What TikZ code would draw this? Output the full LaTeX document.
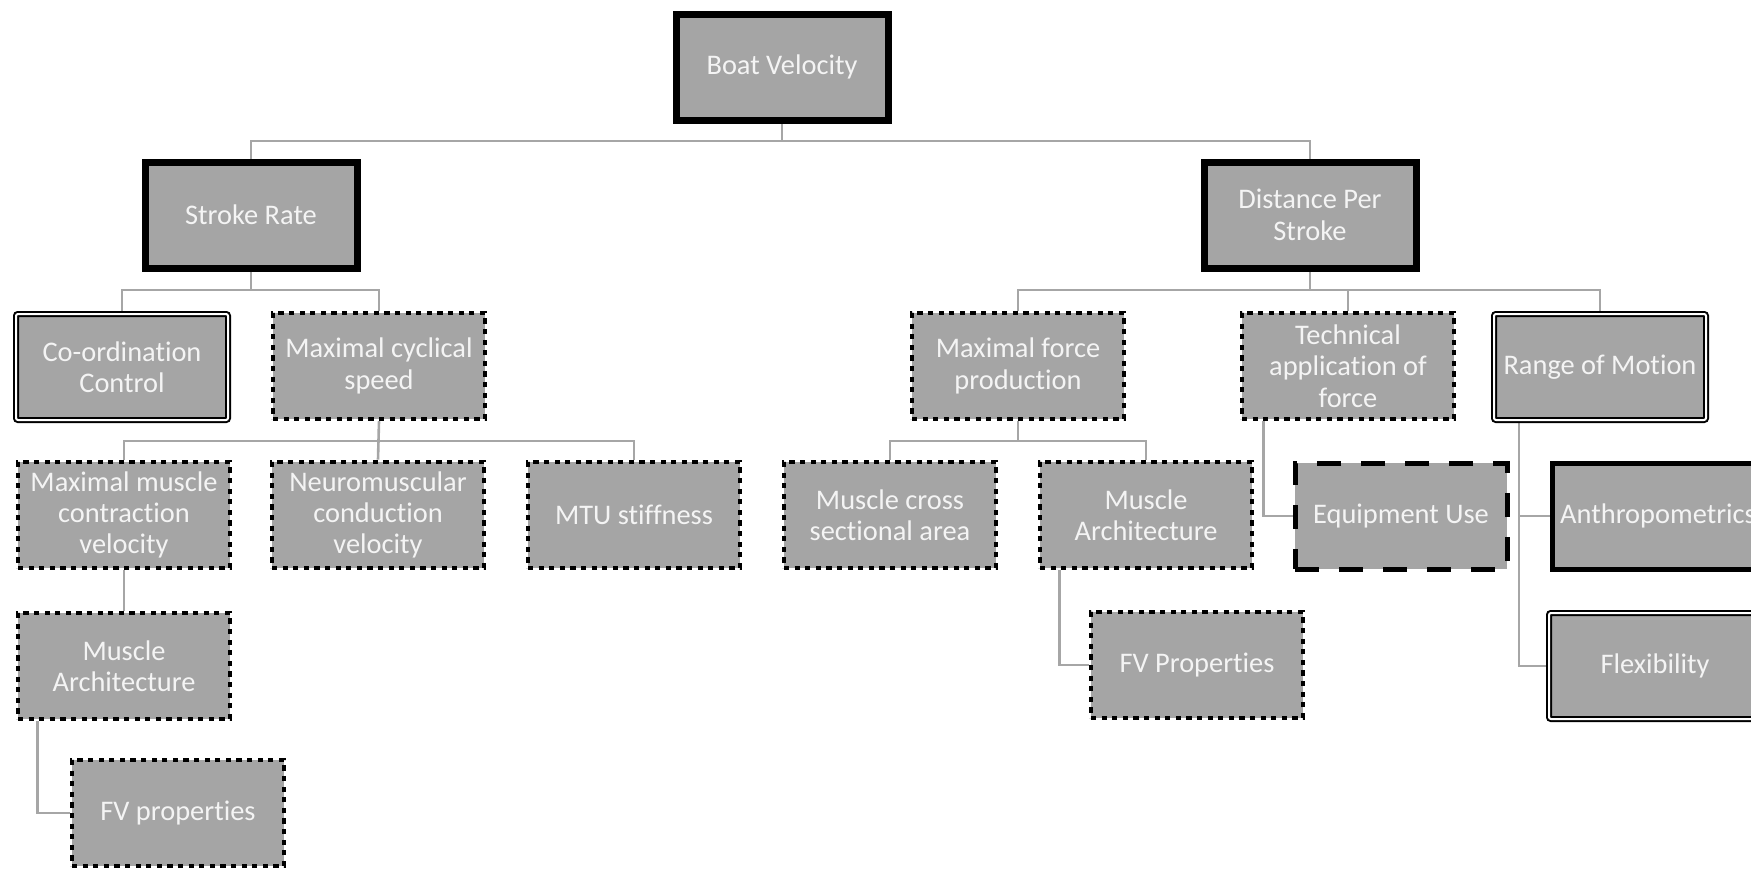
\documentclass[tikz,border=0pt]{standalone}
\usepackage{fontspec}
\setmainfont{Carlito}[Ligatures=NoCommon]
\definecolor{boxfill}{HTML}{A5A5A5}
\definecolor{boxtext}{HTML}{F4F4F4}
\definecolor{linkgray}{HTML}{A6A6A6}
\pgfdeclarelayer{background}
\pgfsetlayers{background,main}

\begin{document}
\begin{tikzpicture}[x=0.5pt,y=-0.5pt,
  box/.style={rectangle, fill=boxfill, text=boxtext, minimum width=106pt,
    minimum height=53pt, inner sep=1pt, align=center,
    font=\fontsize{14.2pt}{15.7pt}\selectfont},
  heavybox/.style={box, draw=black, line width=3.5pt},
  solidbox/.style={box, draw=black, line width=2.5pt},
  doublebox/.style={box, draw=black, double=white, line width=1pt, double distance=1pt, rounded corners=1pt},
  dotbox/.style={box, draw=black, line width=2.4pt, dash pattern=on 2.6pt off 2.7pt},
  dashbox/.style={box, draw=black, line width=2.5pt, dash pattern=on 12pt off 10pt},
  conn/.style={draw=linkgray, line width=1.3pt}]

\useasboundingbox (0,0) rectangle (1751,868);
\clip (0,0) rectangle (1751,868);

% top level
\node[heavybox] (boat) at (782,67) {Boat Velocity};

% second level
\node[heavybox] (stroke) at (251,215) {Stroke Rate};
\node[heavybox] (dps) at (1310,215) {Distance Per\\Stroke};

% stroke rate branch
\node[doublebox] (coord) at (122,367) {Co-ordination\\Control};
\node[dotbox] (maxcyc) at (379,366) {Maximal cyclical\\speed};
\node[dotbox] (mmcv) at (124,515) {Maximal muscle\\contraction\\velocity};
\node[dotbox] (ncv) at (378,515) {Neuromuscular\\conduction\\velocity};
\node[dotbox] (mtu) at (634,515) {MTU stiffness};
\node[dotbox] (arch1) at (124,666) {Muscle\\Architecture};
\node[dotbox] (fv1) at (178,813) {FV properties};

% distance per stroke branch
\node[dotbox] (maxforce) at (1018,366) {Maximal force\\production};
\node[dotbox] (tech) at (1348,366) {Technical\\application of\\force};
\node[doublebox] (rom) at (1600,367) {Range of Motion};
\node[dotbox] (mcsa) at (890,515) {Muscle cross\\sectional area};
\node[dotbox] (arch2) at (1146,515) {Muscle\\Architecture};
\node[dotbox] (fv2) at (1197,665) {FV Properties};
\node[dashbox] (equip) at (1401,516) {Equipment Use};
\node[solidbox] (anthro) at (1658,516) {Anthropometrics};
\node[doublebox] (flex) at (1655,666) {Flexibility};

% horizontal bus levels
\coordinate (bus0) at (0,141);
\coordinate (bus1) at (0,290);
\coordinate (bus2) at (0,441);

\begin{pgfonlayer}{background}
  % boat velocity to its two factors
  \draw[conn] (boat.south) |- (stroke.north |- bus0) -- (stroke.north);
  \draw[conn] (boat.south) |- (dps.north |- bus0) -- (dps.north);
  % stroke rate
  \draw[conn] (stroke.south) |- (coord.north |- bus1) -- (coord.north);
  \draw[conn] (stroke.south) |- (maxcyc.north |- bus1) -- (maxcyc.north);
  % maximal cyclical speed
  \draw[conn] (maxcyc.south) |- (mmcv.north |- bus2) -- (mmcv.north);
  \draw[conn] (maxcyc.south) -- (ncv.north);
  \draw[conn] (maxcyc.south) |- (mtu.north |- bus2) -- (mtu.north);
  % muscle architecture chain (left)
  \draw[conn] (mmcv.south) -- (arch1.north);
  \draw[conn] ([xshift=11pt]arch1.south west) |- (fv1.west);
  % distance per stroke
  \draw[conn] (dps.south) |- (maxforce.north |- bus1) -- (maxforce.north);
  \draw[conn] (dps.south) |- (tech.north |- bus1) -- (tech.north);
  \draw[conn] (dps.south) |- (rom.north |- bus1) -- (rom.north);
  % maximal force production
  \draw[conn] (maxforce.south) |- (mcsa.north |- bus2) -- (mcsa.north);
  \draw[conn] (maxforce.south) |- (arch2.north |- bus2) -- (arch2.north);
  \draw[conn] ([xshift=11pt]arch2.south west) |- (fv2.west);
  % technical application of force
  \draw[conn] ([xshift=12pt]tech.south west) |- (equip.west);
  % range of motion
  \draw[conn] ([xshift=13pt]rom.south west) |- (anthro.west);
  \draw[conn] ([xshift=13pt]rom.south west) |- (flex.west);
\end{pgfonlayer}
\end{tikzpicture}
\end{document}
